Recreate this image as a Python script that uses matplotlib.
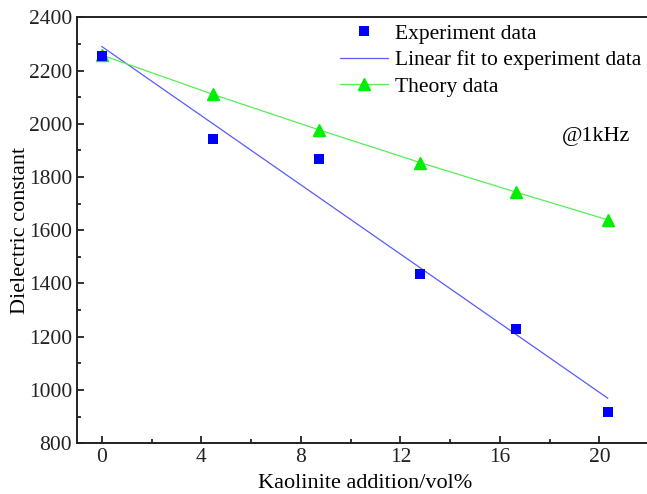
import numpy as np
import matplotlib.pyplot as plt
from matplotlib.ticker import MultipleLocator

# Data
x_exp = [0, 4.48, 8.73, 12.8, 16.65, 20.33]
y_exp = [2255, 1944, 1868, 1435, 1228, 917]
x_theory = [0, 4.48, 8.73, 12.8, 16.65, 20.33]
y_theory = [2258, 2110, 1977, 1854, 1743, 1639]

# linear fit to the experiment data
slope, intercept = np.polyfit(x_exp, y_exp, 1)
x_fit = np.array([x_exp[0], x_exp[-1]])
y_fit = slope * x_fit + intercept

plt.rcParams['font.family'] = 'Liberation Serif'

fig = plt.figure(figsize=(6.47, 4.94), dpi=100)
# right spine falls just outside the picture, as in the original
ax = fig.add_axes([0.119, 0.103, 0.891, 0.862])

ax.plot(x_exp, y_exp, 's', color='#0000ff', markersize=7, markeredgewidth=0,
        label='Experiment data', zorder=3)
ax.plot(x_fit, y_fit, '-', color='#5a5aff', linewidth=0.9,
        label='Linear fit to experiment data', zorder=2)
ax.plot(x_theory, y_theory, '-^', color='#55ee55', markerfacecolor='#00ee00',
        markeredgecolor='#00ee00', markersize=9, linewidth=0.9,
        label='Theory data', zorder=2)

ax.set_xlim(-1, 22.17)
ax.set_ylim(800, 2400)
ax.set_xticks([0, 4, 8, 12, 16, 20])
ax.xaxis.set_minor_locator(MultipleLocator(2))
ax.set_yticks(np.arange(800, 2401, 200))
ax.yaxis.set_minor_locator(MultipleLocator(100))

ax.tick_params(which='both', direction='in', top=False, right=False,
               labelsize=15.5, width=1.3, colors='#222222')
ax.tick_params(which='major', length=5)
ax.tick_params(which='minor', length=3)
for s in ax.spines.values():
    s.set_linewidth(1.4)
    s.set_color('#222222')

ax.set_xlabel('Kaolinite addition/vol%', fontsize=16, labelpad=5)
ax.set_ylabel('Dielectric constant', fontsize=16, labelpad=-1)

ax.legend(loc='upper right', bbox_to_anchor=(1.013, 1.03), frameon=False,
          fontsize=15.5, handlelength=2.2, handletextpad=0.35, labelspacing=0.3)
ax.text(0.959, 0.72, '@1kHz', transform=ax.transAxes, ha='right', va='center',
        fontsize=16)

plt.savefig('out.png', dpi=100)
